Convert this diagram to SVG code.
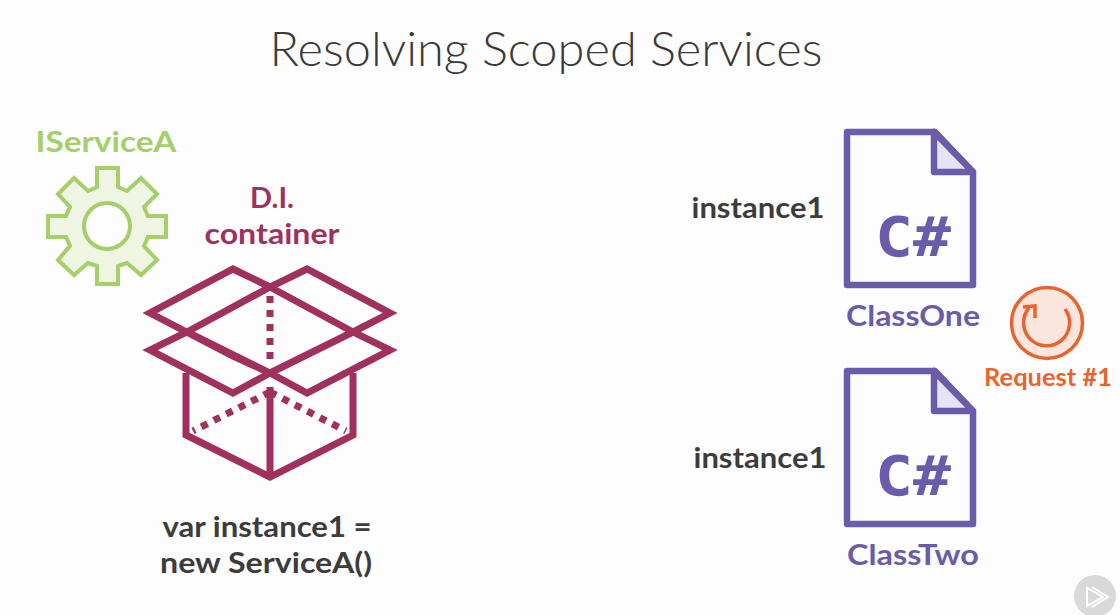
<svg xmlns="http://www.w3.org/2000/svg" width="1120" height="615" viewBox="0 0 1120 615">
<style>
text{font-family:"Lato","Liberation Sans",sans-serif;font-weight:700}
.t{font-size:47px;font-weight:300;fill:#3a3a3a}
.l{font-size:29px;fill:#3c3c3c}
.g{font-size:29px;fill:#a4cf6a}
.m{font-size:29px;fill:#a0315f}
.p{font-size:28.5px;fill:#6a5cab}
.o{font-size:24px;fill:#e8642e}
.box{fill:none;stroke:#a0315f;stroke-width:7;stroke-linejoin:miter}
.dot{fill:none;stroke:#a0315f;stroke-width:7;stroke-dasharray:7 7}
.doc{fill:#fdfdfd;stroke:#6a5cab;stroke-width:6.5;stroke-linejoin:round}
.fold{fill:#e6e3f3;stroke:#6a5cab;stroke-width:6.5;stroke-linejoin:round}
.cs{font-family:"DejaVu Sans Mono","Liberation Mono",monospace;font-size:56px;font-weight:700;fill:#6a5cab}
</style>
<rect width="1120" height="615" fill="#fdfdfd"/>
<text class="t" x="546" y="66" text-anchor="middle" textLength="553" lengthAdjust="spacingAndGlyphs">Resolving Scoped Services</text>
<g id="gear">
<path d="M97 168H118V187L127 191L141 178L157 194L144 207L148 216H166V237H148L144 246L157 260L141 275L127 263L118 266V284H97V266L88 263L74 275L58 260L70 246L66 237H48V216H66L70 207L58 194L74 178L88 191L97 187Z" fill="#eef5e3" stroke="#a4cf6a" stroke-width="4" stroke-linejoin="miter"/>
<circle cx="107" cy="226" r="23" fill="#fdfdfd" stroke="#a4cf6a" stroke-width="4"/>
<text class="g" x="106" y="152" text-anchor="middle" textLength="141" lengthAdjust="spacingAndGlyphs">IServiceA</text>
</g>
<g id="container">
<text class="m" x="272" y="208" text-anchor="middle">D.I.</text>
<text class="m" x="272" y="244" text-anchor="middle" textLength="135" lengthAdjust="spacingAndGlyphs">container</text>
<path class="box" d="M186 373V435L270 477L353 435V373M270 387V477"/>
<path class="box" d="M270 287L233 269L150 313L233 356L270 373L353 332L390 313L307 269L270 287L187 332L150 350L233 393L270 373M270 287L353 332L390 350L307 393L270 373L187 332"/>
<path class="dot" d="M270 296V366M270 392L193 431M270 392L346 431"/>
</g>
<text id="code1" class="l" x="267" y="537" text-anchor="middle" textLength="209" lengthAdjust="spacingAndGlyphs">var instance1 =</text>
<text id="code2" class="l" x="266" y="573" text-anchor="middle" textLength="212" lengthAdjust="spacingAndGlyphs">new ServiceA()</text>
<g id="classone">
<path class="doc" d="M847 132H935L973 172V285H847Z"/>
<path class="fold" d="M934 132V172H973Z"/>
<text class="cs" x="875" y="256" textLength="76" lengthAdjust="spacingAndGlyphs">C#</text>
<text class="p" x="913" y="326" text-anchor="middle" textLength="134" lengthAdjust="spacingAndGlyphs">ClassOne</text>
<text class="l" x="758" y="218" text-anchor="middle" textLength="133" lengthAdjust="spacingAndGlyphs">instance1</text>
</g>
<g id="classtwo">
<path class="doc" d="M847 371H935L973 411V524H847Z"/>
<path class="fold" d="M934 371V411H973Z"/>
<text class="cs" x="875" y="495" textLength="76" lengthAdjust="spacingAndGlyphs">C#</text>
<text class="p" x="913" y="565" text-anchor="middle" textLength="132" lengthAdjust="spacingAndGlyphs">ClassTwo</text>
<text class="l" x="760" y="468" text-anchor="middle" textLength="133" lengthAdjust="spacingAndGlyphs">instance1</text>
</g>
<g id="request">
<circle cx="1047" cy="323" r="35.5" fill="#fbe5dc" stroke="#e8642e" stroke-width="3.5"/>
<path d="M1065 309A23 23 0 1 1 1029 308M1023 307L1035 306L1035 318" fill="none" stroke="#e8642e" stroke-width="3.5"/>
<text class="o" x="1048" y="386" text-anchor="middle" textLength="128" lengthAdjust="spacingAndGlyphs">Request #1</text>
</g>
<g id="connectors"/>
<g id="play">
<circle cx="1095" cy="596" r="21" fill="#d9d9d9"/>
<path d="M1087 588V606L1103 597Z M1092 587L1108 597L1092 607" fill="none" stroke="#fff" stroke-width="2"/>
</g>
</svg>
